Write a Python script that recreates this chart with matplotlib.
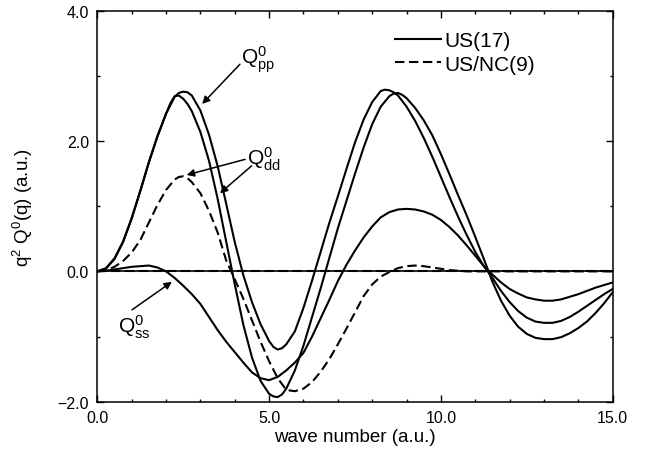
import numpy as np
import matplotlib
matplotlib.use("Agg")
import matplotlib.pyplot as plt
from matplotlib.ticker import MultipleLocator, FuncFormatter

plt.rcParams['font.family'] = ['Liberation Sans', 'DejaVu Sans']
plt.rcParams['mathtext.fontset'] = 'custom'
plt.rcParams['mathtext.rm'] = 'Liberation Sans'
plt.rcParams['mathtext.it'] = 'Liberation Sans:italic'

wave_number = np.linspace(0.0, 15.0, 61)

# US(17), the two large curves (Q_pp / Q_dd)
q_big_a = [0.00, 0.05, 0.20, 0.46, 0.82, 1.24, 1.68, 2.08, 2.42, 2.69,
           2.65, 2.46, 2.14, 1.70, 1.12, 0.46, -0.20, -0.82, -1.32, -1.68,
           -1.88, -1.93, -1.80, -1.52, -1.14, -0.70, -0.26, 0.20, 0.66, 1.08,
           1.50, 1.90, 2.26, 2.53, 2.69, 2.74, 2.66, 2.51, 2.32, 2.09,
           1.80, 1.49, 1.17, 0.86, 0.53, 0.19, -0.16, -0.45, -0.68, -0.85,
           -0.96, -1.02, -1.04, -1.04, -1.01, -0.95, -0.87, -0.77, -0.64, -0.49,
           -0.32]
q_big_b = [0.00, 0.04, 0.19, 0.45, 0.81, 1.23, 1.67, 2.07, 2.42, 2.68,
           2.76, 2.70, 2.47, 2.10, 1.62, 1.04, 0.45, -0.06, -0.47, -0.81,
           -1.07, -1.20, -1.12, -0.92, -0.56, -0.14, 0.30, 0.74, 1.15, 1.57,
           1.98, 2.33, 2.60, 2.77, 2.78, 2.70, 2.53, 2.31, 2.05, 1.76,
           1.45, 1.14, 0.84, 0.56, 0.30, 0.08, -0.10, -0.30, -0.47, -0.61,
           -0.71, -0.77, -0.79, -0.79, -0.76, -0.70, -0.62, -0.53, -0.44, -0.35,
           -0.27]
# US(17), Q_ss
q_ss = [0.00, 0.01, 0.03, 0.05, 0.07, 0.08, 0.09, 0.06, 0.00, -0.10,
        -0.22, -0.35, -0.50, -0.70, -0.90, -1.08, -1.24, -1.40, -1.55, -1.64,
        -1.67, -1.62, -1.52, -1.40, -1.25, -1.00, -0.72, -0.44, -0.15, 0.10,
        0.32, 0.52, 0.69, 0.83, 0.91, 0.95, 0.96, 0.95, 0.92, 0.87,
        0.79, 0.68, 0.55, 0.40, 0.24, 0.08, -0.05, -0.17, -0.27, -0.34,
        -0.40, -0.43, -0.45, -0.45, -0.43, -0.39, -0.35, -0.30, -0.25, -0.21,
        -0.17]
# US/NC(9), Q_dd and the flat one
q_dd_nc = [0.00, 0.02, 0.07, 0.16, 0.29, 0.48, 0.75, 1.02, 1.25, 1.41,
           1.46, 1.37, 1.20, 0.93, 0.60, 0.17, -0.12, -0.42, -0.75, -1.08,
           -1.38, -1.64, -1.82, -1.84, -1.80, -1.70, -1.54, -1.35, -1.12, -0.88,
           -0.63, -0.38, -0.20, -0.08, -0.01, 0.05, 0.08, 0.09, 0.08, 0.06,
           0.04, 0.02, 0.01, 0.00, 0.00, 0.00, 0.00, 0.00, 0.00, 0.00,
           0.00, 0.00, 0.00, 0.00, 0.00, 0.00, 0.00, 0.00, 0.00, 0.00,
           0.00]
q_flat_nc = [0.0] * 61

# extra readings around the turning points
a_extra_x = [2.125, 2.375, 2.625, 5.125, 5.375, 8.625, 8.875]
a_extra_y = [2.58, 2.70, 2.57, -1.92, -1.89, 2.73, 2.71]
b_extra_x = [2.375, 2.625, 5.125, 5.375, 8.375, 8.625]
b_extra_y = [2.74, 2.75, -1.16, -1.18, 2.79, 2.75]
dd_extra_x = [2.375, 2.625]
dd_extra_y = [1.45, 1.43]

x_ticks = [0.0, 5.0, 10.0, 15.0]
y_ticks = [-2.0, 0.0, 2.0, 4.0]


def merged(xs, ys, ex, ey):
    x = np.concatenate([xs, ex])
    y = np.concatenate([ys, ey])
    order = np.argsort(x)
    return x[order], y[order]


# --- figure ---
fig = plt.figure(figsize=(6.45, 4.56), dpi=100)
ax = fig.add_axes([0.1509, 0.117, 0.799, 0.857])

lw = 1.5
dash = (0, (4.5, 2.2))
ax.axhline(0.0, color='black', lw=1.2)
ax.plot(*merged(wave_number, q_big_a, a_extra_x, a_extra_y), color='black', lw=lw)
ax.plot(*merged(wave_number, q_big_b, b_extra_x, b_extra_y), color='black', lw=lw)
ax.plot(wave_number, q_ss, color='black', lw=lw)
ax.plot(*merged(wave_number, q_dd_nc, dd_extra_x, dd_extra_y), color='black',
        lw=lw, linestyle=dash)
ax.plot(wave_number, q_flat_nc, color='black', lw=lw, linestyle=dash)

ax.set_xlim(0, 15)
ax.set_ylim(-2, 4)
ax.set_xticks(x_ticks)
ax.set_yticks(y_ticks)
ax.xaxis.set_minor_locator(MultipleLocator(1.0))
ax.yaxis.set_minor_locator(MultipleLocator(1.0))
fmt = FuncFormatter(lambda v, p: f"{v:.1f}".replace('-', '\u2212'))
ax.xaxis.set_major_formatter(fmt)
ax.yaxis.set_major_formatter(fmt)
ax.tick_params(which='both', direction='in', top=True, right=True,
               labelsize=11.5, width=1.0)
ax.tick_params(which='major', length=5, pad=6)
ax.tick_params(which='minor', length=2.5)
for s in ax.spines.values():
    s.set_linewidth(1.1)

ax.set_xlabel('wave number (a.u.)', fontsize=13.5)
ax.set_ylabel(r'q$^{\mathrm{2}}$ Q$^{\mathrm{0}}$(q) (a.u.)', fontsize=13.5)
ax.xaxis.set_label_coords(0.5, -0.067)
ax.yaxis.set_label_coords(-0.12, 0.5)

# legend, drawn from proxy lines
h1, = ax.plot([], [], color='black', lw=lw)
h2, = ax.plot([], [], color='black', lw=lw, linestyle=dash)
ax.legend([h1, h2], ['US(17)', 'US/NC(9)'], loc='upper left',
          bbox_to_anchor=(0.612, 0.929), bbox_transform=fig.transFigure,
          frameon=False, fontsize=15, handlelength=2.2, handletextpad=0.2,
          labelspacing=0.2, borderpad=0, borderaxespad=0)

# curve labels with arrows
arrow = dict(arrowstyle='-|>', color='black', lw=1.1,
             mutation_scale=11, shrinkA=0, shrinkB=0)
ax.text(4.17, 3.27, r'Q$^{\mathrm{0}}_{\mathrm{pp}}$', fontsize=15,
        ha='left', va='center')
ax.annotate('', xy=(3.05, 2.57), xytext=(4.15, 3.18), arrowprops=arrow)

ax.text(4.35, 1.73, r'Q$^{\mathrm{0}}_{\mathrm{dd}}$', fontsize=15,
        ha='left', va='center')
ax.annotate('', xy=(2.60, 1.48), xytext=(4.30, 1.72), arrowprops=arrow)
ax.annotate('', xy=(3.57, 1.20), xytext=(4.49, 1.62), arrowprops=arrow)

ax.text(0.61, -0.84, r'Q$^{\mathrm{0}}_{\mathrm{ss}}$', fontsize=15,
        ha='left', va='center')
ax.annotate('', xy=(2.17, -0.16), xytext=(1.01, -0.59), arrowprops=arrow)

fig.savefig('out.png', dpi=100)
